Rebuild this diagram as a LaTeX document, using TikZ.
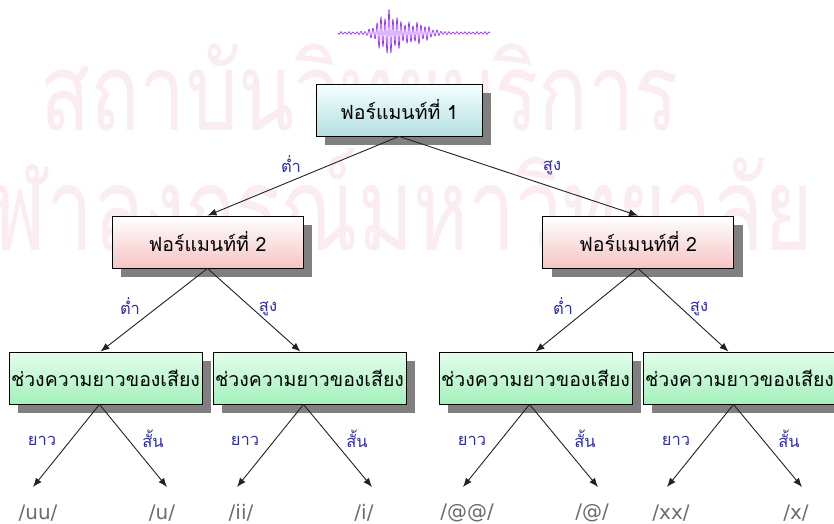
\documentclass[tikz,border=0pt]{standalone}
\usepackage{fontspec}
\newfontfamily\thaifont[Script=Thai]{Loma}
\newfontfamily\leaffont{DejaVu Sans}
\usetikzlibrary{arrows.meta,shadows}

\definecolor{shadowgray}{HTML}{808080}
\definecolor{wmpink}{HTML}{FAECF2}
\definecolor{labelblue}{HTML}{2E2EA8}
\definecolor{leafgray}{HTML}{6C6C6C}
\definecolor{wave}{HTML}{9933FF}

\begin{document}
\begin{tikzpicture}[x=1pt,y=-1pt,
  box/.style={draw=black, line width=0.8pt, minimum height=52pt, inner sep=2pt,
    font=\thaifont\fontsize{19.5}{22}\selectfont,
    drop shadow={shadow xshift=9pt, shadow yshift=-9pt, fill=shadowgray, opacity=1}},
  firstbox/.style={box, minimum width=166pt, top color=white!80!cyan!20, bottom color={rgb,255:red,180;green,223;blue,226}},
  secondbox/.style={box, minimum width=191pt, top color=white, bottom color={rgb,255:red,245;green,196;blue,196}},
  lenbox/.style={box, minimum width=193pt, top color={rgb,255:red,228;green,253;blue,236}, bottom color={rgb,255:red,164;green,240;blue,188}},
  lbl/.style={text=labelblue, inner sep=0pt, font=\thaifont\fontsize{16.5}{18}\selectfont},
  leaf/.style={text=leafgray, inner sep=0pt, font=\leaffont\fontsize{20}{22}\selectfont},
  link/.style={draw={rgb,255:red,34;green,34;blue,34}, line width=0.9pt, -{Latex[length=9pt,width=7pt]}}]

\useasboundingbox (0,0) rectangle (834,523);
\clip (0,0) rectangle (834,523);
\fill[white] (0,0) rectangle (834,523);

% background stamp
\node[anchor=base west, inner sep=0pt, text=wmpink] (wm1) at (40,130)
  {\scalebox{0.76}[1]{\thaifont\fontsize{108}{108}\selectfont สถาบันวิทยบริการ}};
\node[anchor=base west, inner sep=0pt, text=wmpink] (wm2) at (-60,250)
  {\scalebox{0.72}[1]{\thaifont\fontsize{116}{116}\selectfont จุฬาลงกรณ์มหาวิทยาลัย}};

% speech signal on top (t runs along the trace)
\draw[wave, line width=0.7pt] plot[domain=0:152, samples=700]
  ({338+\x}, {33 + (1.3 + 22*exp(-min(((\x-50)/13)^2,30)) + 10*exp(-min(((\x-78)/16)^2,30)))*sin(\x*90)*(0.8+0.2*sin(\x*37))});

% tree boxes
\node[firstbox] (f1) at (399,110) {ฟอร์แมนท์ที่ 1};
\node[secondbox] (f2lo) at (207.5,242) {ฟอร์แมนท์ที่ 2};
\node[secondbox] (f2hi) at (638,242) {ฟอร์แมนท์ที่ 2};
\node[lenbox] (d1) at (105.5,378) {ช่วงความยาวของเสียง};
\node[lenbox] (d2) at (309.5,378) {ช่วงความยาวของเสียง};
\node[lenbox] (d3) at (535.5,378) {ช่วงความยาวของเสียง};
\node[lenbox] (d4) at (739.5,378) {ช่วงความยาวของเสียง};

% arrow ends above the vowels
\coordinate (t1) at (33,487);
\coordinate (t2) at (167,487);
\coordinate (t3) at (237,487);
\coordinate (t4) at (372,487);
\coordinate (t5) at (463,487);
\coordinate (t6) at (598,487);
\coordinate (t7) at (667,487);
\coordinate (t8) at (802,487);

\node[leaf] (uu) at (38,513) {/uu/};
\node[leaf] (u) at (162,513) {/u/};
\node[leaf] (ii) at (241,513) {/ii/};
\node[leaf] (i) at (364,513) {/i/};
\node[leaf] (aa) at (467,513) {/@@/};
\node[leaf] (a) at (592,513) {/@/};
\node[leaf] (xx) at (671,513) {/xx/};
\node[leaf] (x) at (796,513) {/x/};

\path
(f1.south) edge[link] (f2lo.north)
(f1.south) edge[link] (f2hi.north)
(f2lo.south) edge[link] ([xshift=-5pt]d1.north)
(f2lo.south) edge[link] ([xshift=-9pt]d2.north)
(f2hi.south) edge[link] (d3.north)
(f2hi.south) edge[link] ([xshift=-11pt]d4.north)
([xshift=-6pt]d1.south) edge[link] (t1)
([xshift=-6pt]d1.south) edge[link] (t2)
([xshift=-6pt]d2.south) edge[link] (t3)
([xshift=-6pt]d2.south) edge[link] (t4)
([xshift=-6pt]d3.south) edge[link] (t5)
([xshift=-6pt]d3.south) edge[link] (t6)
([xshift=-6pt]d4.south) edge[link] (t7)
([xshift=-6pt]d4.south) edge[link] (t8);

% branch labels
\node[lbl] (lo1) at (291,164) {ต่ำ};
\node[lbl] (hi1) at (552,168) {สูง};
\node[lbl] (lo2) at (130,306) {ต่ำ};
\node[lbl] (hi2) at (268,309) {สูง};
\node[lbl] (lo3) at (563,306) {ต่ำ};
\node[lbl] (hi3) at (699,309) {สูง};
\node[lbl] (long1) at (42,441) {ยาว};
\node[lbl] (short1) at (153,439) {สั้น};
\node[lbl] (long2) at (245,441) {ยาว};
\node[lbl] (short2) at (357,439) {สั้น};
\node[lbl] (long3) at (472,441) {ยาว};
\node[lbl] (short3) at (585,439) {สั้น};
\node[lbl] (long4) at (676,441) {ยาว};
\node[lbl] (short4) at (789,439) {สั้น};
\end{tikzpicture}
\end{document}
